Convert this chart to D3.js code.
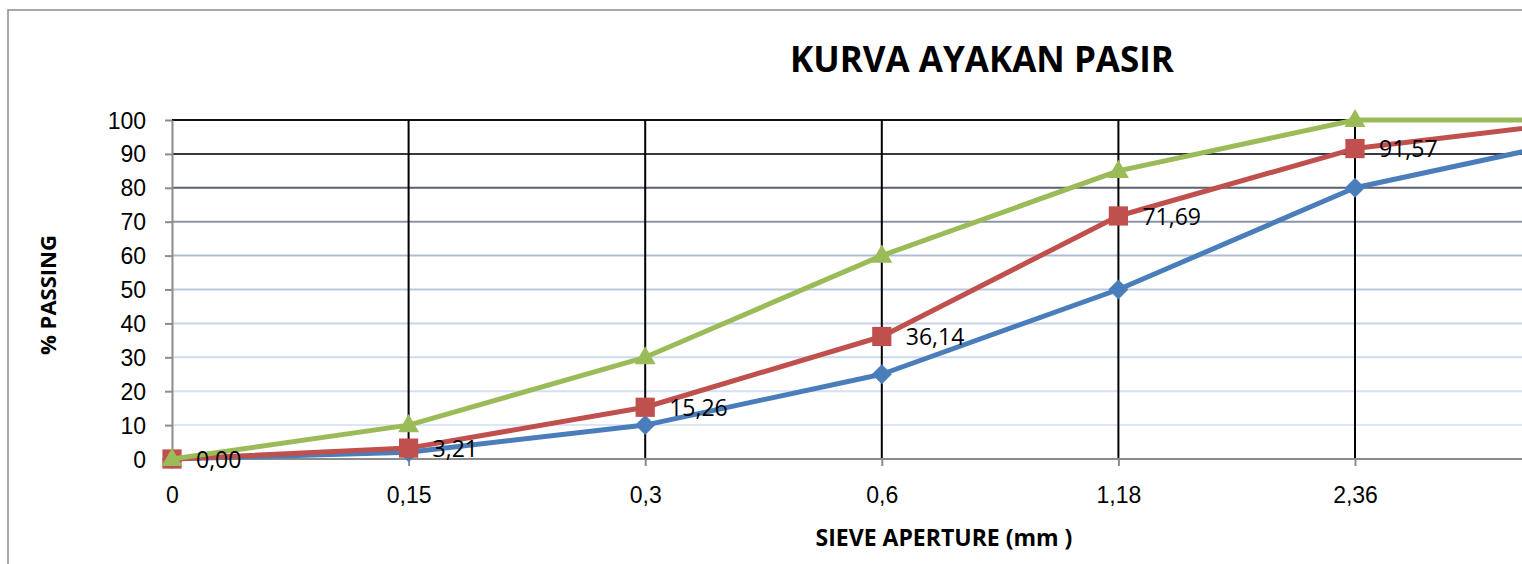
<!DOCTYPE html>
<html>
<head>
<meta charset="utf-8">
<script src="https://cdn.jsdelivr.net/npm/d3@7"></script>
<style>
  body { margin: 0; background: #fff; overflow: hidden; }
  svg { display: block; font-family: "Open Sans", "Noto Sans", sans-serif; }
  .axis path, .axis line { stroke: #8c8c8c; stroke-width: 2; }
  .axis text { font-size: 23px; fill: #000; }
</style>
</head>
<body>
<svg id="chart"></svg>
<script>
const sieve = ["0", "0,15", "0,3", "0,6", "1,18", "2,36", "4,75"];
const lowerLimit = [0, 2, 10, 25, 50, 80, 95];
const sandPassing = [0, 3.21, 15.26, 36.14, 71.69, 91.57, 100];
const upperLimit = [0, 10, 30, 60, 85, 100, 100];
const yTicks = [0, 10, 20, 30, 40, 50, 60, 70, 80, 90, 100];

const W = 1522, H = 564;
const plotLeft = 172, plotTop = 120, plotBottom = 459, step = 236.6;

const svg = d3.select("#chart").attr("width", W).attr("height", H);

// chart area border
svg.append("rect")
  .attr("x", 8).attr("y", 10)
  .attr("width", 2000).attr("height", 1000)
  .attr("fill", "none").attr("stroke", "#8c8c8c").attr("stroke-width", 1.5);

const x = d3.scalePoint()
  .domain(sieve)
  .range([plotLeft, plotLeft + step * (sieve.length - 1)]);

const y = d3.scaleLinear()
  .domain([0, 100])
  .range([plotBottom, plotTop]);

// horizontal grid, darker towards the top
const gridColor = d3.scaleLinear()
  .domain([10, 40, 60, 70, 80, 100])
  .range(["#dce6f4", "#c8d4ea", "#b0bcd4", "#8a94aa", "#5a6072", "#111111"]);

svg.append("g")
  .selectAll("line")
  .data(yTicks.filter(d => d > 0))
  .join("line")
  .attr("x1", plotLeft).attr("x2", W + 100)
  .attr("y1", d => y(d)).attr("y2", d => y(d))
  .attr("stroke", d => gridColor(d))
  .attr("stroke-width", 2);

// vertical grid
svg.append("g")
  .selectAll("line")
  .data(sieve.slice(1))
  .join("line")
  .attr("x1", d => x(d)).attr("x2", d => x(d))
  .attr("y1", plotTop).attr("y2", plotBottom)
  .attr("stroke", "#000")
  .attr("stroke-width", 2);

// axes
svg.append("g")
  .attr("class", "axis")
  .attr("transform", "translate(0," + plotBottom + ")")
  .call(d3.axisBottom(x).tickSize(7).tickPadding(21).tickSizeOuter(0))
  .call(g => g.select(".domain").attr("d", "M" + plotLeft + ",0H" + (W + 100)))
  .call(g => g.selectAll(".tick text").filter(d => x(d) > W - 20).remove());

svg.append("g")
  .attr("class", "axis")
  .attr("transform", "translate(" + plotLeft + ",0)")
  .call(d3.axisLeft(y).tickValues(yTicks).tickSize(7).tickPadding(19).tickSizeOuter(0))
  .call(g => g.selectAll("text").attr("dy", "0.35em"));

// series
const series = [
  { name: "lower", values: lowerLimit, color: "#4a7ebb", symbol: d3.symbolDiamond2, size: 255, dy: 0 },
  { name: "sand", values: sandPassing, color: "#c0504d", symbol: d3.symbolSquare, size: 370, dy: 0 },
  { name: "upper", values: upperLimit, color: "#9bbb59", symbol: d3.symbolTriangle, size: 190, dy: 1 }
];

const line = d3.line()
  .x((d, i) => x(sieve[i]))
  .y(d => y(d));

series.forEach(s => {
  const g = svg.append("g").attr("id", s.name);
  g.append("path")
    .datum(s.values)
    .attr("d", line)
    .attr("fill", "none")
    .attr("stroke", s.color)
    .attr("stroke-width", 5)
    .attr("stroke-linejoin", "round");
  g.selectAll(".marker")
    .data(s.values)
    .join("path")
    .attr("class", "marker")
    .attr("transform", (d, i) => "translate(" + x(sieve[i]) + "," + (y(d) + s.dy) + ")")
    .attr("d", d3.symbol().type(s.symbol).size(s.size))
    .attr("fill", s.color);
});

// data labels for the sand series (only those inside the visible area)
svg.append("g")
  .selectAll("text")
  .data(sandPassing.map((v, i) => ({ v: v, k: sieve[i] })).filter(d => x(d.k) < W - 40))
  .join("text")
  .attr("x", d => x(d.k) + 24)
  .attr("y", d => y(d.v))
  .attr("dy", "0.38em")
  .attr("font-size", 23)
  .text(d => d.v.toFixed(2).replace(".", ","));

// titles
svg.append("text")
  .attr("x", 982).attr("y", 72)
  .attr("text-anchor", "middle")
  .attr("font-size", 35).attr("font-weight", "bold")
  .text("KURVA AYAKAN PASIR");

svg.append("text")
  .attr("x", 944).attr("y", 546)
  .attr("text-anchor", "middle")
  .attr("font-size", 23).attr("font-weight", "bold")
  .text("SIEVE APERTURE (mm )");

svg.append("text")
  .attr("transform", "translate(56,295) rotate(-90)")
  .attr("text-anchor", "middle")
  .attr("font-size", 22).attr("font-weight", "bold")
  .text("% PASSING");
</script>
</body>
</html>
